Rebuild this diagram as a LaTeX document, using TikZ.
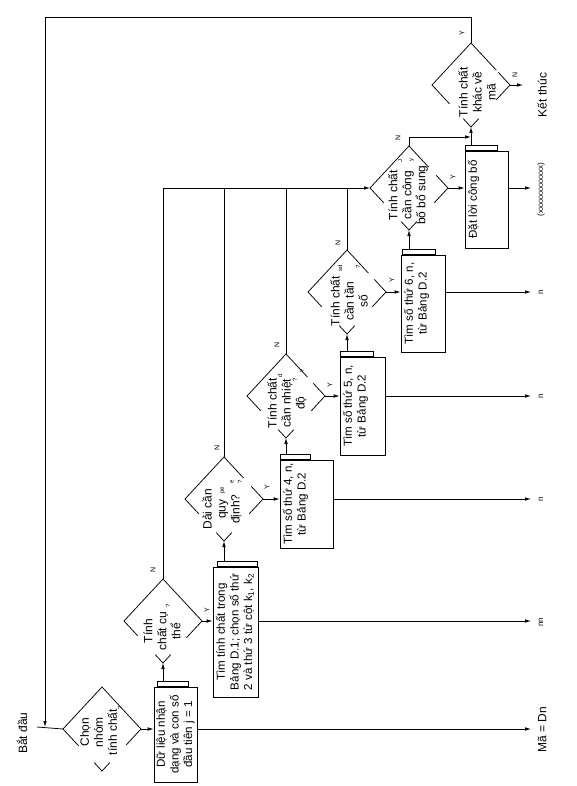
\documentclass[tikz,border=0pt]{standalone}
\usepackage{fontspec}
\setmainfont{Liberation Sans}
\usetikzlibrary{arrows.meta,calc}
\newcommand{\mkdia}[3]{%
  \coordinate (#1) at (#2,#3);
  \coordinate (#1L) at ($(#1)+(-39,0)$);
  \coordinate (#1R) at ($(#1)+(39,0)$);
  \coordinate (#1T) at ($(#1)+(0,-42)$);
  \coordinate (#1B) at ($(#1)+(0,42)$);}
% name, ur from T, ur from R, lr from R, lr from B, ll from B, ll from L
\newcommand{\drawdia}[7]{%
  \draw (#1L) -- (#1T) -- ($(#1T)!#2!(#1R)$);
  \draw ($(#1R)!#3!(#1T)$) -- (#1R) -- ($(#1R)!#4!(#1B)$);
  \draw ($(#1B)!#5!(#1R)$) -- (#1B) -- ($(#1B)!#6!(#1L)$);
  \draw (#1L) -- ($(#1L)!#7!(#1B)$);}
\begin{document}
\begin{tikzpicture}[x=1pt,y=-1pt,line width=0.75pt,
  arr/.style={-{Latex[length=6pt,width=3.6pt]}},
  txt/.style={rotate=90,align=center,inner sep=0pt,font=\fontsize{12}{14}\selectfont},
  btxt/.style={rotate=90,align=center,inner sep=0pt,font=\fontsize{11.6}{13.6}\selectfont,anchor=north},
  yn/.style={rotate=90,inner sep=0pt,font=\fontsize{7}{8}\selectfont},
  outl/.style={rotate=90,inner sep=0pt,font=\fontsize{8}{9}\selectfont},
  mk/.style={rotate=90,inner sep=0pt,font=\fontsize{6}{7}\selectfont},
  box/.style={draw,inner sep=0pt},
  tabbox/.style={draw,inner sep=0pt,minimum height=5pt,anchor=south west}]
\fill[white] (0,0) rectangle (576,786);
\useasboundingbox (0,0) rectangle (576,786);

% diamonds
\mkdia{d1}{102}{729}
\mkdia{d2}{163}{621}
\mkdia{d3}{224}{499}
\mkdia{d4}{286}{396}
\mkdia{d5}{347}{292}
\mkdia{d6}{409}{188}
\mkdia{d7}{471}{85}
\drawdia{d1}{1}{0}{0.38}{0.2}{0.2}{0.4}
\drawdia{d2}{1}{0}{0.4}{0.2}{0.2}{0.35}
\drawdia{d3}{0.5}{0.3}{0.35}{0.2}{0.2}{0.35}
\drawdia{d4}{0.55}{0.3}{0.35}{0.2}{0.2}{0.35}
\drawdia{d5}{0.55}{0.3}{0.35}{0.2}{0.2}{0.35}
\drawdia{d6}{0.5}{0.3}{0.35}{0.2}{0.2}{0.35}
\drawdia{d7}{0.65}{0.3}{0.35}{0.2}{0.2}{0.45}

% diamond texts
\node[txt] (q1) at (98.5,732) {Chọn\\nhóm\\tính chất};
\node[txt] (q2) at (162,631) {Tính\\chất cụ\\thể};
\node[txt] (q3) at (222,509) {Dải cần\\quy\\định?};
\node[txt] (q4) at (287,403) {Tính chất\\cần nhiệt\\độ};
\node[txt] (q5) at (349,301) {Tính chất\\cần tần\\số};
\node[txt] (q6) at (408,195) {Tính chất\\cần công\\bố bổ sung};
\node[txt] (q7) at (477,92) {Tính chất\\khác về\\mã};

% stray marks
\node[mk] (m1) at (120,708) {?};
\node[mk] (m2) at (168,606) {?};
\node[mk] (m3a) at (223,490) {pe};
\node[mk] (m3b) at (232,482) {e};
\node[mk] (m3c) at (240,482) {?};
\node[mk] (m4a) at (280,376) {d};
\node[mk] (m4b) at (295,380) {?};
\node[mk] (m4c) at (302,371) {?};
\node[mk] (m5a) at (340,268) {sd};
\node[mk] (m5b) at (358,267) {?};
\node[mk] (m6a) at (400,161) {J};
\node[mk] (m6b) at (412,160) {y};

% boxes
\node[box,minimum width=43pt,minimum height=95pt] (b1) at (175.5,734.5) {};
\node[box,minimum width=45pt,minimum height=130pt] (b2) at (235.5,632) {};
\node[box,minimum width=53pt,minimum height=88pt] (b3) at (306.5,504) {};
\node[box,minimum width=45pt,minimum height=98pt] (b4) at (362.5,406) {};
\node[box,minimum width=44pt,minimum height=97pt] (b5) at (423,303.5) {};
\node[box,minimum width=43pt,minimum height=97pt] (b6) at (486.5,199.5) {};
% tabs
\node[tabbox,minimum width=31pt] (t1) at (157,687) {};
\node[tabbox,minimum width=40pt] (t2) at (217,567) {};
\node[tabbox,minimum width=30pt] (t3) at (280,460) {};
\node[tabbox,minimum width=33pt] (t4) at (340,357) {};
\node[tabbox,minimum width=33pt] (t5) at (402,255) {};
\node[tabbox,minimum width=32pt] (t6) at (465,151) {};

% box texts
\node[btxt] (x1) at ($(b1.west)+(2.5,0)$) {Dữ liệu nhận\\dạng và con số\\đầu tiên j = 1};
\node[btxt] (x2) at ($(b2.west)+(3,0)$) {Tìm tính chất trong\\Bảng D.1; chọn số thứ\\2 và thứ 3 từ cột k\textsubscript{1}, k\textsubscript{2}};
\node[btxt] (x3) at ($(b3.west)+(3,0)$) {Tìm số thứ 4, n,\\từ Bảng D.2};
\node[btxt] (x4) at ($(b4.west)+(3,0)$) {Tìm số thứ 5, n,\\từ Bảng D.2};
\node[btxt] (x5) at ($(b5.west)+(3,0)$) {Tìm số thứ 6, n,\\từ Bảng D.2};
\node[btxt] (x6) at ($(b6.west)+(3,0)$) {Đặt lời công bố};

% start / end
\node[txt] (start) at (22,733) {Bắt đầu};
\node[txt] (end) at (542,95) {Kết thúc};
\coordinate (st) at (37,727);
\coordinate (loopc) at (45,17);
\coordinate (ke) at (523,85);
\draw (st) -- (d1L);
\draw[arr] (d7T) |- (loopc) -- (loopc |- st);
\draw[arr] (d7R) -- (ke);

% Y exits to boxes
\draw[arr] (d1R) -- (d1R -| b1.west);
\draw[arr] (d2R) -- (d2R -| b2.west);
\draw[arr] (d3R) -- (d3R -| b3.west);
\draw[arr] (d4R) -- (d4R -| b4.west);
\draw[arr] (d5R) -- (d5R -| b5.west);
\draw[arr] (d6R) -- (d6R -| b6.west);

% stems from tabs to next diamonds
\draw[arr] (t1.north -| d2B) -- (d2B);
\draw[arr] (t2.north -| d3B) -- (d3B);
\draw[arr] (t3.north -| d4B) -- (d4B);
\draw[arr] (t4.north -| d5B) -- (d5B);
\draw[arr] (t5.north -| d6B) -- (d6B);
\draw[arr] (t6.north -| d7B) -- (d7B);

% N bus
\draw (d2T) -- (d2T |- d6L);
\draw (d3T) -- (d3T |- d6L);
\draw (d4T) -- (d4T |- d6L);
\draw (d5T) -- (d5T |- d6L);
\draw[arr] (d2T |- d6L) -- (d6L);
\coordinate (n6) at (409,137);
\draw[arr] (d6T) -- (n6) -- (n6 -| d7B);

% outputs
\coordinate (ox) at (531,0);
\draw[arr] (d1R -| b1.east) -- (d1R -| ox);
\draw[arr] (d2R -| b2.east) -- (d2R -| ox);
\draw[arr] (d3R -| b3.east) -- (d3R -| ox);
\draw[arr] (d4R -| b4.east) -- (d4R -| ox);
\draw[arr] (d5R -| b5.east) -- (d5R -| ox);
\draw[arr] (d6R -| b6.east) -- (d6R -| ox);
\node[txt] (o1) at (542,730) {Mã = Dn};
\node[outl] (o2) at (541,622) {nn};
\node[outl] (o3) at (541,499) {n};
\node[outl] (o4) at (541,396) {n};
\node[outl] (o5) at (541,292) {n};
\node[outl] (o6) at (541,190) {(xxxxxxxxxxxx)};

% Y / N labels
\node[yn] (n2) at (153,570) {N};
\node[yn] (y2) at (207,610) {Y};
\node[yn] (n3) at (217,448) {N};
\node[yn] (y3) at (267,487) {Y};
\node[yn] (n4) at (277,345) {N};
\node[yn] (y4) at (330,385) {Y};
\node[yn] (n5) at (338,243) {N};
\node[yn] (y5) at (392,280) {Y};
\node[yn] (nn6) at (398,138) {N};
\node[yn] (y6) at (453,177) {Y};
\node[yn] (y7) at (462,33) {Y};
\node[yn] (n7) at (515,75) {N};
\end{tikzpicture}
\end{document}
